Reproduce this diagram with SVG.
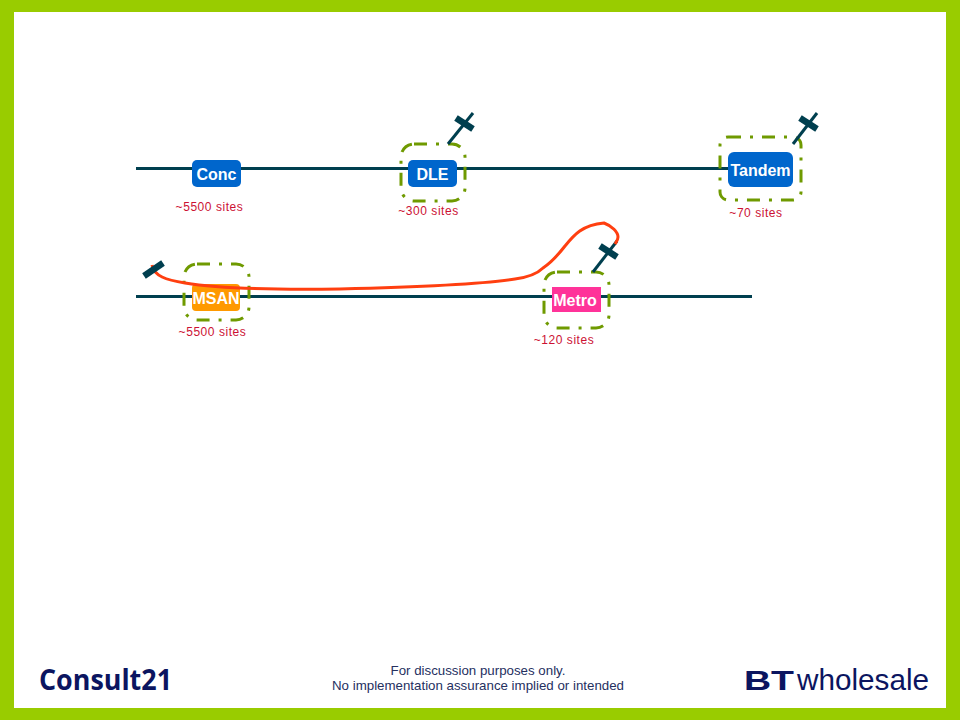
<svg xmlns="http://www.w3.org/2000/svg" width="960" height="720" viewBox="0 0 960 720">
<style>
text{font-family:"Liberation Sans",Arial,sans-serif}
.bus{stroke:#003F4F;stroke-width:3;fill:none}
.ant{stroke:#003F4F;stroke-width:3;fill:none}
.bar{stroke:#003F4F;stroke-width:6.500;fill:none}
.ring{fill:none;stroke:#6F9A00;stroke-width:3;stroke-dasharray:13 9 3 9}
.lab{font-size:16px;font-weight:bold;fill:#fff;text-anchor:middle}
.cnt{font-size:12px;fill:#CC1133;letter-spacing:.55px;text-anchor:middle}
.foot{font-size:13.300px;fill:#25305F;text-anchor:middle}
</style>
<rect x="0" y="0" width="960" height="720" fill="#99CC00"/>
<rect x="14" y="12" width="932" height="696" fill="#fff"/>
<g id="connectors">
<path class="bus" d="M136 168.500H728"/>
<path class="bus" d="M136 296.500H752"/>
</g>
<g id="conc">
<rect x="192" y="160" width="49" height="27" rx="5" fill="#0066CC"/>
<text class="lab" x="216.500" y="180">Conc</text>
<text class="cnt" x="209.500" y="211">~5500 sites</text>
</g>
<g id="dle">
<rect x="408" y="160" width="49" height="27" rx="5" fill="#0066CC"/>
<text class="lab" x="432.500" y="180">DLE</text>
<rect class="ring" x="401" y="144" width="64" height="57" rx="13"/>
<path class="ant" d="M448 144L473 113"/>
<path class="bar" d="M456 118L473 129"/>
<text class="cnt" x="428.500" y="215">~300 sites</text>
</g>
<g id="tandem">
<rect x="728" y="152" width="65" height="35" rx="6" fill="#0066CC"/>
<text class="lab" x="760.500" y="176">Tandem</text>
<rect class="ring" x="720" y="137" width="81" height="63" rx="8"/>
<path class="ant" d="M793 144L817 113"/>
<path class="bar" d="M800 118L817 129"/>
<text class="cnt" x="756" y="217">~70 sites</text>
</g>
<g id="msan">
<rect x="192" y="284" width="48" height="27" rx="4" fill="#FF9900"/>
<text class="lab" x="216" y="304">MSAN</text>
<rect class="ring" x="184" y="264" width="65" height="56" rx="13"/>
<text class="cnt" x="212.500" y="336">~5500 sites</text>
</g>
<g id="metro">
<rect x="552" y="287" width="49" height="25" fill="#FF3399"/>
<text class="lab" x="575" y="306">Metro</text>
<rect class="ring" x="544" y="272" width="65" height="56" rx="13"/>
<path class="ant" d="M593 272L617 241"/>
<path class="bar" d="M600 246L617 257"/>
<text class="cnt" x="564" y="344">~120 sites</text>
</g>
<g id="route">
<path d="M152 265C154 276 166 280 185 283C215 288 270 290 340 289C420 287 490 283 515 279C530 277 538 273 543 268C552 262 558 255 565 246C574 235 582 225 604 223C612 226 618 232 618 237C618 240 617 241 615 244" fill="none" stroke="#FF3F10" stroke-width="3"/>
<path class="bar" d="M144 276L163 263"/>
</g>
<g id="footer">
<text class="foot" x="478" y="675">For discussion purposes only.</text>
<text class="foot" x="478" y="690">No implementation assurance implied or intended</text>
</g>
<g id="logos">
<text x="39" y="690" font-size="29" font-weight="bold" fill="#0B1560" style="font-family:'Open Sans','Liberation Sans',sans-serif" textLength="133" lengthAdjust="spacingAndGlyphs">Consult21</text>
<text x="744" y="690" font-size="28" font-weight="bold" fill="#0B1560" textLength="50" lengthAdjust="spacingAndGlyphs" style="font-family:'Liberation Sans',sans-serif">BT</text>
<text x="797" y="690" font-size="29" fill="#0B1560" textLength="132" lengthAdjust="spacingAndGlyphs" style="font-family:'Liberation Sans',sans-serif">wholesale</text>
</g>
</svg>
